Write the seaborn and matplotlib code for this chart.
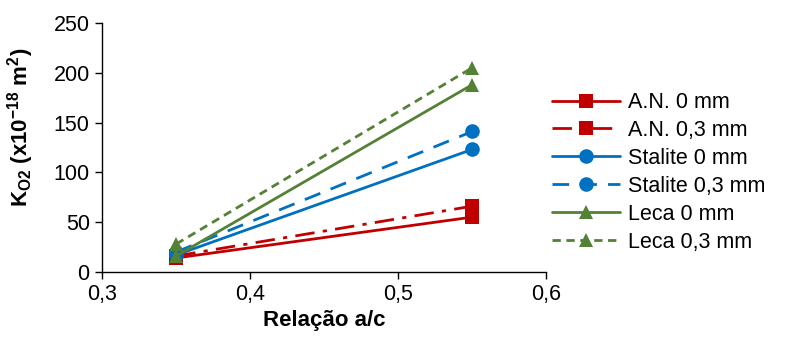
import pandas as pd
import matplotlib.pyplot as plt
import seaborn as sns

# ==========================================
# DATA
# ==========================================
relacao_ac = [0.35, 0.55]
series = ['A.N. 0 mm', 'A.N. 0,3 mm', 'Stalite 0 mm', 'Stalite 0,3 mm',
          'Leca 0 mm', 'Leca 0,3 mm']
an_0 = [14, 55]
an_03 = [16, 66]
stalite_0 = [17, 123]
stalite_03 = [20, 141]
leca_0 = [16, 188]
leca_03 = [28, 205]
x_ticks = [0.3, 0.4, 0.5, 0.6]
x_tick_labels = ['0,3', '0,4', '0,5', '0,6']
y_ticks = [0, 50, 100, 150, 200, 250]

values = [an_0, an_03, stalite_0, stalite_03, leca_0, leca_03]
rows = []
for name, vals in zip(series, values):
    for x, y in zip(relacao_ac, vals):
        rows.append({'serie': name, 'ac': x, 'k': y})
df = pd.DataFrame(rows)

# ==========================================
# STYLE
# ==========================================
sns.set_theme(style="white")
plt.rcParams['font.family'] = ['Liberation Sans', 'DejaVu Sans']
plt.rcParams['mathtext.fontset'] = 'custom'
plt.rcParams['mathtext.rm'] = 'Liberation Sans'
plt.rcParams['mathtext.bf'] = 'Liberation Sans:bold'
plt.rcParams['text.color'] = 'black'
plt.rcParams['axes.labelcolor'] = 'black'
plt.rcParams['xtick.color'] = 'black'
plt.rcParams['ytick.color'] = 'black'

red, blue, green = '#C00000', '#0070C0', '#538135'
palette = {series[0]: red, series[1]: red, series[2]: blue,
           series[3]: blue, series[4]: green, series[5]: green}
markers = {series[0]: 's', series[1]: 's', series[2]: 'o',
           series[3]: 'o', series[4]: '^', series[5]: '^'}
dashes = {series[0]: '', series[1]: (7, 3, 1.5, 3), series[2]: '',
          series[3]: (6, 4), series[4]: '', series[5]: (3, 2)}

fig = plt.figure(figsize=(7.86, 3.42), dpi=100)
ax = fig.add_axes([0.13, 0.205, 0.565, 0.728])

sns.lineplot(data=df, x='ac', y='k', hue='serie', style='serie',
             hue_order=series, style_order=series, palette=palette,
             markers=markers, dashes=dashes, markersize=10.5,
             markeredgewidth=0, linewidth=2, ax=ax)

ax.set_xlim(0.3, 0.6)
ax.set_ylim(0, 250)
ax.set_xticks(x_ticks)
ax.set_xticklabels(x_tick_labels)
ax.set_yticks(y_ticks)
ax.tick_params(axis='both', labelsize=15.5, length=5, width=1, color='black',
               labelcolor='black', direction='out', left=True, bottom=True,
               pad=4)
for side in ['top', 'right']:
    ax.spines[side].set_visible(False)
for side in ['left', 'bottom']:
    ax.spines[side].set_color('black')
    ax.spines[side].set_linewidth(1)

ax.set_xlabel('Relação a/c', fontsize=16, fontweight='bold', labelpad=3)
ax.set_ylabel(r'K$_{\mathbf{O2}}$ (x10$^{\mathbf{-18}}$ m$^{\mathbf{2}}$)',
              fontsize=16, fontweight='bold')
ax.yaxis.set_label_coords(-0.148, 0.58)

handles, labels = ax.get_legend_handles_labels()
ax.legend(handles, labels, loc='center left', bbox_to_anchor=(1.012, 0.40),
          frameon=False, fontsize=15.5, handlelength=3.2, handletextpad=0.35,
          labelspacing=0.32, borderaxespad=0, borderpad=0)

plt.savefig('out.png', dpi=100)
plt.close()
